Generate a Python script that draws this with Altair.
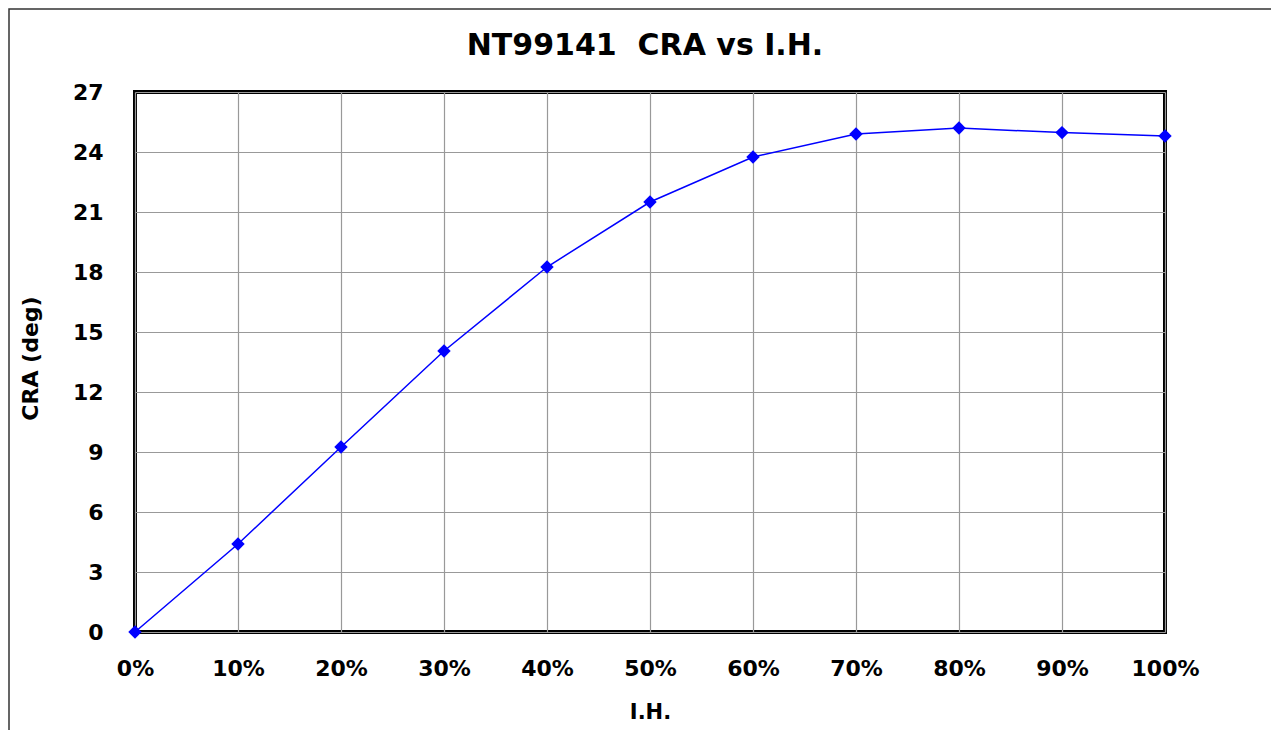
import altair as alt
import pandas as pd

ih = [0.0, 0.1, 0.2, 0.3, 0.4, 0.5, 0.6, 0.7, 0.8, 0.9, 1.0]
cra = [0.0, 4.4, 9.25, 14.05, 18.25, 21.5, 23.75, 24.9, 25.2, 24.97, 24.8]
x_ticks = [0.0, 0.1, 0.2, 0.3, 0.4, 0.5, 0.6, 0.7, 0.8, 0.9, 1.0]
y_ticks = [0, 3, 6, 9, 12, 15, 18, 21, 24, 27]
title_text = ["NT99141\u00a0\u00a0CRA vs I.H."]

df = pd.DataFrame({"ih": ih, "cra": cra})
FONT = "DejaVu Sans"
W, H = 1030, 540

base = alt.Chart(df)

x = alt.X("ih:Q", scale=alt.Scale(domain=[0, 1], nice=False, zero=True),
          axis=alt.Axis(values=x_ticks, format=".0%", title="I.H.",
                        labelFontSize=22, labelFont=FONT, labelFontWeight="bold",
                        labelColor="black", labelPadding=26, labelFlush=False,
                        labelOverlap=False,
                        titleFontSize=21, titleFont=FONT, titleFontWeight="bold",
                        titleColor="black", titleX=W / 2, titleY=80,
                        titleBaseline="middle", titleAlign="center",
                        grid=True, gridColor="#999999", gridWidth=1.2,
                        ticks=False, domain=False))
y = alt.Y("cra:Q", scale=alt.Scale(domain=[0, 27], nice=False),
          axis=alt.Axis(values=y_ticks, title="CRA (deg)",
                        labelFontSize=22, labelFont=FONT, labelFontWeight="bold",
                        labelColor="black", labelPadding=32, labelFlush=False,
                        labelOverlap=False,
                        titleFontSize=22, titleFont=FONT, titleFontWeight="bold",
                        titleColor="black", titleX=-105, titleY=266,
                        titleBaseline="middle", titleAlign="center", titleAngle=270,
                        grid=True, gridColor="#999999", gridWidth=1.2,
                        ticks=False, domain=False))

line = base.mark_line(color="#0000FF", strokeWidth=1.5).encode(x=x, y=y)
pts = base.mark_point(shape="diamond", filled=True, color="#0000FF", size=180,
                      opacity=1).encode(x="ih:Q", y="cra:Q")

deco = alt.Chart(pd.DataFrame({"t": title_text}))
border = deco.mark_rect(fill=None, stroke="#333333", strokeWidth=1.5, clip=False).encode(
    x=alt.value(-126), x2=alt.value(1400), y=alt.value(-83), y2=alt.value(900))
title = deco.mark_text(font=FONT, fontSize=30, fontWeight="bold", color="black",
                       align="center", baseline="middle").encode(
    x=alt.value(W / 2 - 5), y=alt.value(-46), text="t:N")

chart = alt.layer(border, line, pts, title).properties(
    width=W, height=H,
    background="white",
    autosize=alt.AutoSizeParams(type="none"),
    padding={"left": 127, "top": 84, "right": 106, "bottom": 98},
).configure_view(stroke="black", strokeWidth=4)

chart.save("out.html", embed_options={"renderer": "svg", "actions": False})
